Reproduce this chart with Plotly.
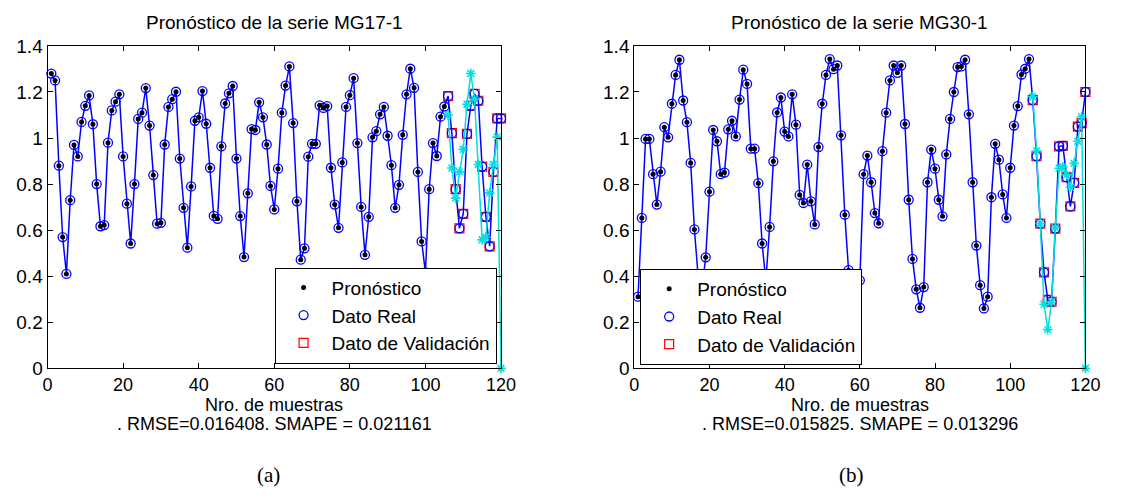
import plotly.graph_objects as go

# ---------------- data ----------------
# Panel (a): MG17-1
x_train = list(range(1, 106))
x_val = list(range(106, 121))

real_a = [1.28, 1.25, 0.88, 0.57, 0.41, 0.73, 0.97, 0.92, 1.07, 1.14,
          1.185, 1.06, 0.80, 0.617, 0.622, 0.98, 1.12, 1.158, 1.19, 0.92,
          0.715, 0.542, 0.80, 1.083, 1.11, 1.217, 1.054, 0.839, 0.628, 0.632,
          0.972, 1.135, 1.169, 1.201, 0.911, 0.697, 0.524, 0.79, 1.075, 1.09,
          1.204, 1.062, 0.871, 0.662, 0.649, 0.964, 1.15, 1.194, 1.226, 0.911,
          0.661, 0.483, 0.76, 1.039, 1.035, 1.155, 1.09, 0.972, 0.792, 0.69,
          0.867, 1.11, 1.228, 1.311, 1.065, 0.725, 0.472, 0.521, 0.919, 0.975,
          0.975, 1.142, 1.131, 1.139, 0.871, 0.711, 0.61, 0.894, 1.135, 1.186,
          1.26, 0.978, 0.701, 0.493, 0.658, 1.003, 1.03, 1.103, 1.135, 1.01,
          0.882, 0.697, 0.797, 1.014, 1.19, 1.301, 1.218, 0.853, 0.551, 0.417,
          0.778, 0.978, 0.922, 1.093, 1.137]
val_a = [1.182, 1.021, 0.778, 0.608, 0.671, 1.018, 1.14, 1.192, 1.162, 0.876,
         0.658, 0.53, 0.853, 1.085, 1.085]
fc_val_a = [1.10, 0.87, 0.739, 0.853, 0.951, 1.147, 1.28, 1.169, 0.885, 0.558,
            0.57, 0.762, 0.885, 1.004, 0.0]

# Panel (b): MG30-1
real_b = [0.311, 0.653, 0.996, 0.996, 0.843, 0.711, 0.854, 1.047, 1.003, 1.149,
          1.274, 1.34, 1.163, 1.069, 0.892, 0.603, 0.395, 0.345, 0.482, 0.767,
          1.035, 0.986, 0.843, 0.85, 1.038, 1.075, 1.007, 1.167, 1.297, 1.235,
          0.954, 0.954, 0.804, 0.542, 0.38, 0.614, 0.899, 1.111, 1.176, 1.028,
          1.007, 1.19, 1.058, 0.753, 0.718, 0.885, 0.725, 0.625, 0.961, 1.149,
          1.274, 1.343, 1.299, 1.315, 1.012, 0.667, 0.426, 0.28, 0.30, 0.382,
          0.843, 0.924, 0.808, 0.674, 0.63, 0.943, 1.11, 1.25, 1.315, 1.283,
          1.315, 1.061, 0.732, 0.475, 0.343, 0.263, 0.353, 0.808, 0.95, 0.867,
          0.732, 0.66, 0.929, 1.083, 1.2, 1.308, 1.311, 1.34, 1.103, 0.808,
          0.533, 0.361, 0.26, 0.311, 0.743, 0.975, 0.906, 0.755, 0.653, 0.871,
          1.054, 1.139, 1.276, 1.301, 1.343]
val_b = [1.165, 0.921, 0.628, 0.417, 0.297, 0.289, 0.607, 0.964, 0.966, 0.83,
         0.703, 0.805, 1.05, 1.065, 1.2]
fc_val_b = [1.179, 0.944, 0.628, 0.278, 0.168, 0.288, 0.611, 0.869, 0.875, 0.84,
            0.786, 0.89, 0.986, 1.093, 0.0]

titles = ["Pronóstico de la serie MG17-1", "Pronóstico de la serie MG30-1"]
xlabels = ["Nro. de muestras", "Nro. de muestras"]
metrics = [". RMSE=0.016408. SMAPE = 0.021161", ". RMSE=0.015825. SMAPE = 0.013296"]
panel_tags = ["(a)", "(b)"]
legend_names = ["Pronóstico", "Dato Real", "Dato de Validación"]
x_ticks = [0, 20, 40, 60, 80, 100, 120]
y_ticks = [0, 0.2, 0.4, 0.6, 0.8, 1, 1.2, 1.4]
y_ticktext = ["0", "0.2", "0.4", "0.6", "0.8", "1", "1.2", "1.4"]

# ---------------- figure ----------------
W, H = 1122, 501
FONT = "Arial, Liberation Sans, sans-serif"
BLUE = "#0000ff"
FS = 18

fig = go.Figure()

panels = [
    dict(real=real_a, val=val_a, fc=fc_val_a, xa="x", ya="y", leg="legend"),
    dict(real=real_b, val=val_b, fc=fc_val_b, xa="x2", ya="y2", leg="legend2"),
]

for p in panels:
    real_all = p["real"] + p["val"]
    x_all = x_train + x_val
    # validation squares
    fig.add_trace(go.Scatter(
        x=x_val, y=p["val"], mode="markers", name=legend_names[2],
        marker=dict(symbol="square-open", size=9, color="#ff0000", line=dict(width=1.2)),
        xaxis=p["xa"], yaxis=p["ya"], legend=p["leg"], legendrank=3, cliponaxis=False))
    # blue line through the real data
    fig.add_trace(go.Scatter(
        x=x_all, y=real_all, mode="lines", showlegend=False,
        line=dict(color=BLUE, width=1.5),
        xaxis=p["xa"], yaxis=p["ya"], legend=p["leg"]))
    # real data circles
    fig.add_trace(go.Scatter(
        x=x_all, y=real_all, mode="markers", name=legend_names[1],
        marker=dict(symbol="circle-open", size=9, color=BLUE, line=dict(width=1.3)),
        xaxis=p["xa"], yaxis=p["ya"], legend=p["leg"], legendrank=2, cliponaxis=False))
    # forecast dots (training part)
    fig.add_trace(go.Scatter(
        x=x_train, y=p["real"], mode="markers", name=legend_names[0],
        marker=dict(symbol="circle", size=5, color="black"),
        xaxis=p["xa"], yaxis=p["ya"], legend=p["leg"], legendrank=1, cliponaxis=False))
    # forecast on validation part
    fig.add_trace(go.Scatter(
        x=x_val, y=p["fc"], mode="lines+markers", showlegend=False,
        line=dict(color="#00e0e0", width=1.5),
        marker=dict(symbol="asterisk-open", size=8, line=dict(color="#00cc00", width=1.6)),
        xaxis=p["xa"], yaxis=p["ya"], legend=p["leg"], cliponaxis=False))

L0, L1 = 43.3 / W, 505 / W
R0, R1 = 640.7 / W, 1100 / W
B0, T0 = (H - 374) / H, (H - 37.5) / H

axis_common = dict(showline=True, linecolor="black", linewidth=1, mirror="ticks",
                   ticks="inside", ticklen=5, tickcolor="black", showgrid=False,
                   zeroline=False, tickfont=dict(size=FS + 1, family=FONT, color="black"))

legend_common = dict(bgcolor="white", bordercolor="black", borderwidth=1,
                     font=dict(size=19, family=FONT, color="black"),
                     tracegroupgap=0, itemsizing="trace", itemwidth=46)

xtickfont = dict(size=FS, family=FONT, color="black")
fig.update_layout(
    width=W, height=H, margin=dict(l=0, r=0, t=0, b=0),
    paper_bgcolor="white", plot_bgcolor="white",
    font=dict(family=FONT, size=FS, color="black"),
    xaxis=dict(domain=[L0, L1], range=[0, 120], tickvals=x_ticks, anchor="y",
               ticklabelstandoff=0, **axis_common),
    yaxis=dict(domain=[B0, T0], range=[0, 1.4], tickvals=y_ticks, ticktext=y_ticktext,
               anchor="x", **axis_common),
    xaxis2=dict(domain=[R0, R1], range=[0, 120], tickvals=x_ticks, anchor="y2",
                ticklabelstandoff=0, **axis_common),
    yaxis2=dict(domain=[B0, T0], range=[0, 1.4], tickvals=y_ticks, ticktext=y_ticktext,
                anchor="x2", **axis_common),
    legend=dict(x=500.5 / W, y=(H - 369) / H, xanchor="right", yanchor="bottom",
                **legend_common),
    legend2=dict(x=646.7 / W, y=(H - 370.5) / H, xanchor="left", yanchor="bottom",
                 **legend_common),
)
fig.update_xaxes(tickfont=xtickfont)

annos = []
centers = [(L0 + L1) / 2, (R0 + R1) / 2]
tag_x = [268 / W, 862 / W]
for i in range(2):
    annos.append(dict(text=titles[i], x=centers[i], y=(H - 13) / H, xref="paper", yref="paper",
                      showarrow=False, xanchor="center", yanchor="middle",
                      font=dict(size=FS + 1, family=FONT)))
    annos.append(dict(text=xlabels[i], x=centers[i], y=(H - 412.5) / H, xref="paper", yref="paper",
                      showarrow=False, xanchor="center", yanchor="middle", borderpad=0,
                      font=dict(size=FS, family=FONT)))
    annos.append(dict(text=metrics[i], x=centers[i], y=(H - 432) / H, xref="paper", yref="paper",
                      showarrow=False, xanchor="center", yanchor="middle", borderpad=0,
                      font=dict(size=FS, family=FONT)))
    annos.append(dict(text=panel_tags[i], x=tag_x[i], y=(H - 485) / H, xref="paper", yref="paper",
                      showarrow=False, xanchor="center", yanchor="middle",
                      font=dict(size=21, family="Liberation Serif, DejaVu Serif, serif")))
fig.update_layout(annotations=annos)

fig.write_html("out.html", config={"displayModeBar": False},
               post_script="document.body.style.margin='0';")
